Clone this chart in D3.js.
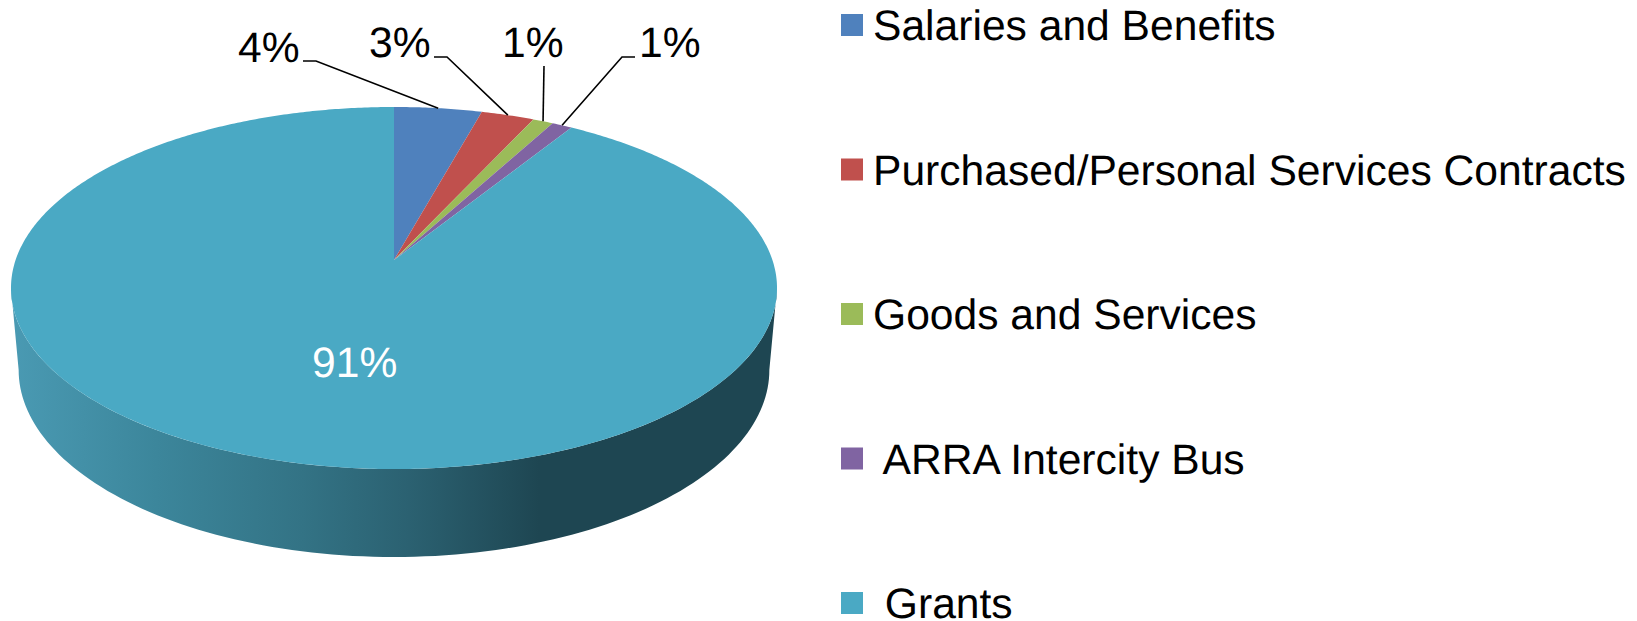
<!DOCTYPE html>
<html>
<head>
<meta charset="utf-8">
<script src="https://d3js.org/d3.v7.min.js"></script>
<style>
  html, body { margin: 0; padding: 0; background: #fff; overflow: hidden; }
  svg { display: block; }
  text { font-family: "Liberation Sans", Arial, sans-serif; font-size: 42.6px; white-space: pre; text-rendering: geometricPrecision; }
</style>
</head>
<body>
<svg id="chart" width="1637" height="621"></svg>
<script>
// Values
const categories = ['Salaries and Benefits', 'Purchased/Personal Services Contracts', 'Goods and Services', ' ARRA Intercity Bus', ' Grants'];
const values = [4.3, 2.6, 1.0, 1.0, 91.1];
const percentLabels = ['4%', '3%', '1%', '1%', '91%'];
const sliceColors = ['#4f81bd', '#c0504d', '#9bbb59', '#8064a2', '#4aa9c4'];

// Where each label sits, and the elbow of its leader line
const labelPlaces = [
  { x: 238, y: 62, fill: '#000', leader: [[303, 61], [316, 61]] },
  { x: 369, y: 57, fill: '#000', leader: [[434, 57], [447, 57]] },
  { x: 502, y: 57, fill: '#000', leader: [[544, 66]] },
  { x: 639, y: 57, fill: '#000', leader: [[635, 57], [622, 57]] },
  { x: 312, y: 377, fill: '#fff', leader: null }
];

// Tilted pie: a circle seen in perspective, so the apex is above the ellipse centre
const apex = { x: 394, y: 260 };
const persp = 0.1547;
const radiusX = 378.4;
const radiusY = 176.7;

// Lower rim of the wall, a little narrower and deeper than the top ellipse
const ellipseMidY = 288;
const lowerMidY = 370;
const lowerScaleX = 0.98;
const lowerScaleY = 1.033;

// angle is clockwise from twelve o'clock
function rim(angle) {
  const u = Math.sin(angle), v = Math.cos(angle), w = 1 + persp * v;
  return [apex.x + radiusX * u / w, apex.y - radiusY * v / w];
}
function lowerRim(angle) {
  const p = rim(angle);
  return [apex.x + (p[0] - apex.x) * lowerScaleX,
          lowerMidY + (p[1] - ellipseMidY) * lowerScaleY];
}

const svg = d3.select('#chart');
const line = d3.line();
const color = d3.scaleOrdinal().domain(categories).range(sliceColors);

const pie = d3.pie().sort(null).value(d => d.value).startAngle(0).endAngle(2 * Math.PI);
const arcs = pie(categories.map((c, i) => ({ name: c, value: values[i] })));

// Gradient on the wall, pale on the left to dark on the right
const grad = svg.append('defs').append('linearGradient')
  .attr('id', 'wall')
  .attr('gradientUnits', 'userSpaceOnUse')
  .attr('x1', 11).attr('x2', 777).attr('y1', 0).attr('y2', 0);
[[0, '#4a9ab3'], [0.19, '#3c869b'], [0.38, '#337385'], [0.52, '#2b6171'], [0.69, '#1e4652'], [1, '#1e4652']]
  .forEach(s => grad.append('stop').attr('offset', s[0]).attr('stop-color', s[1]));

// Side wall, between the two widest points of the ellipse
const sideAngle = Math.acos(-persp);
const frontAngles = d3.range(121).map(i => sideAngle + (i / 120) * (2 * Math.PI - 2 * sideAngle));
const upperEdge = frontAngles.map(rim);
const lowerEdge = frontAngles.map(lowerRim).reverse();
svg.append('path')
  .attr('d', line(upperEdge.concat(lowerEdge)) + 'Z')
  .attr('fill', 'url(#wall)');

// Top face
svg.append('g').selectAll('path')
  .data(arcs)
  .enter()
  .append('path')
  .attr('fill', d => color(d.data.name))
  .attr('d', d => {
    const steps = Math.max(2, Math.ceil((d.endAngle - d.startAngle) / 0.01));
    const pts = d3.range(steps + 1).map(i => rim(d.startAngle + (d.endAngle - d.startAngle) * i / steps));
    return line([[apex.x, apex.y]].concat(pts)) + 'Z';
  });

// Leader lines run to the middle of the slice on the rim
svg.append('g').selectAll('path')
  .data(arcs.filter((d, i) => labelPlaces[i].leader))
  .enter()
  .append('path')
  .attr('fill', 'none')
  .attr('stroke', '#000')
  .attr('stroke-width', 1.6)
  .attr('d', d => line(labelPlaces[d.index].leader.concat([rim((d.startAngle + d.endAngle) / 2)])));

// Percent labels
svg.append('g').selectAll('text')
  .data(percentLabels)
  .enter()
  .append('text')
  .attr('x', (d, i) => labelPlaces[i].x)
  .attr('y', (d, i) => labelPlaces[i].y)
  .attr('fill', (d, i) => labelPlaces[i].fill)
  .text(d => d);

// Legend
const legendY = d3.scalePoint().domain(categories).range([14, 592]);
const legend = svg.append('g').selectAll('g')
  .data(categories)
  .enter()
  .append('g')
  .attr('transform', d => `translate(841,${legendY(d)})`);
legend.append('rect')
  .attr('width', 22)
  .attr('height', 22)
  .attr('fill', d => color(d));
legend.append('text')
  .attr('x', 32)
  .attr('y', 26)
  .attr('fill', '#000')
  .text(d => d);
</script>
</body>
</html>
